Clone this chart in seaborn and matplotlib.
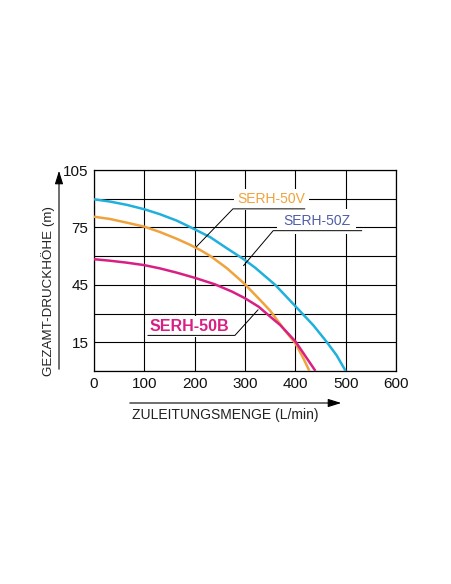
import matplotlib
matplotlib.use("Agg")
import matplotlib.pyplot as plt
import seaborn as sns
import pandas as pd

# Data
flow_50z = [0, 32, 65, 100, 131, 164, 191, 231, 264, 298, 320, 360, 401, 436, 462, 482, 500]
head_50z = [89.7, 88.5, 86.8, 84.5, 81.9, 78.6, 75.2, 69.9, 64.1, 58.3, 54.0, 45.0, 33.6,
            23.8, 15.3, 8.2, 0.0]

flow_50v = [0, 32, 65, 100, 131, 164, 191, 211, 231, 264, 298, 330, 350, 376, 400, 416, 428]
head_50v = [80.6, 79.4, 77.5, 75.4, 72.6, 69.1, 65.9, 63.2, 60.1, 53.7, 45.8, 37.1, 31.5,
            22.3, 14.5, 6.6, 0.0]

flow_50b = [0, 32, 65, 100, 131, 164, 200, 240, 274, 300, 327, 350, 370, 400, 423, 440]
head_50b = [58.4, 57.6, 56.6, 55.3, 53.6, 51.4, 48.7, 45.3, 41.5, 38.0, 33.6, 28.4, 24.0,
            15.5, 6.6, 0.0]

x_ticks = [0, 100, 200, 300, 400, 500, 600]
y_ticks = [15, 45, 75, 105]
y_grid = [0, 15, 30, 45, 60, 75, 90, 105]

series_names = ["SERH-50Z", "SERH-50V", "SERH-50B"]
x_label = "ZULEITUNGSMENGE (L/min)"
y_label = "GEZAMT-DRUCKHÖHE (m)"

c_cyan = "#1fb0dc"
c_orange = "#f0a23c"
c_magenta = "#d81f84"
c_slate = "#4f5ea6"

sns.set_style("white")
plt.rcParams["font.family"] = ["Liberation Sans", "DejaVu Sans"]

df = pd.concat([
    pd.DataFrame({"flow": flow_50z, "head": head_50z, "model": series_names[0]}),
    pd.DataFrame({"flow": flow_50v, "head": head_50v, "model": series_names[1]}),
    pd.DataFrame({"flow": flow_50b, "head": head_50b, "model": series_names[2]}),
])

W, H = 452, 584
fig = plt.figure(figsize=(W / 100, H / 100), dpi=100)
ax = fig.add_axes([94 / W, 1 - 371 / H, (396 - 94) / W, (371 - 170) / H])

# grid
for gx in x_ticks:
    ax.axvline(gx, color="black", lw=0.8, zorder=1)
for gy in y_grid:
    ax.axhline(gy, color="black", lw=0.8, zorder=1)

sns.lineplot(data=df, x="flow", y="head", hue="model",
             palette={series_names[0]: c_cyan, series_names[1]: c_orange,
                      series_names[2]: c_magenta},
             sort=False, estimator=None, lw=1.8, legend=False, ax=ax, zorder=3)
for ln in ax.get_lines():
    ln.set_solid_joinstyle("round")
    ln.set_solid_capstyle("butt")

ax.set_xlim(0, 600)
ax.set_ylim(0, 105)
ax.set_xticks(x_ticks)
ax.set_yticks(y_ticks)
ax.tick_params(length=0, pad=4, labelsize=11, colors="#111111")
ax.set_xlabel("")
ax.set_ylabel("")
for s in ax.spines.values():
    s.set_color("black")
    s.set_linewidth(0.9)

box = dict(facecolor="white", edgecolor="none", pad=2.5)

# SERH-50V label
ax.text(352, 89.6, series_names[1], color=c_orange, fontsize=10, ha="center",
        va="center", bbox=box, zorder=4)
ax.plot([203, 276, 419], [64.8, 84.7, 84.7], color="black", lw=0.7, zorder=5)

# SERH-50Z label
ax.text(442, 78.3, series_names[0], color=c_slate, fontsize=10, ha="center",
        va="center", bbox=dict(facecolor="white", edgecolor="none", pad=4), zorder=4)
ax.plot([297, 356, 532], [55.0, 73.3, 73.3], color="black", lw=0.7, zorder=5)

# SERH-50B label
ax.text(189, 23.3, series_names[2], color=c_magenta, fontsize=11.5,
        fontweight="bold", ha="center", va="center",
        bbox=dict(facecolor="white", edgecolor="none", pad=2), zorder=4)
ax.plot([107, 280, 326], [18.6, 18.6, 32.0], color="black", lw=0.7, zorder=5)

# axis arrows and labels (figure pixel coordinates)
ax.annotate("", xy=(59, H - 168), xytext=(59, H - 372), xycoords="figure pixels",
            textcoords="figure pixels",
            arrowprops=dict(arrowstyle="-|>,head_length=0.8,head_width=0.25",
                            color="black", lw=0.8))
fig.text(48 / W, 1 - 291 / H, y_label, rotation=90, ha="center", va="center",
         fontsize=9.6, color="#222222")

ax.annotate("", xy=(344, H - 403), xytext=(127, H - 403), xycoords="figure pixels",
            textcoords="figure pixels",
            arrowprops=dict(arrowstyle="-|>,head_length=0.8,head_width=0.25",
                            color="black", lw=0.8))
fig.text(225 / W, 1 - 415 / H, x_label, ha="center", va="center",
         fontsize=10, color="#222222")

fig.savefig("out.png", dpi=100)
